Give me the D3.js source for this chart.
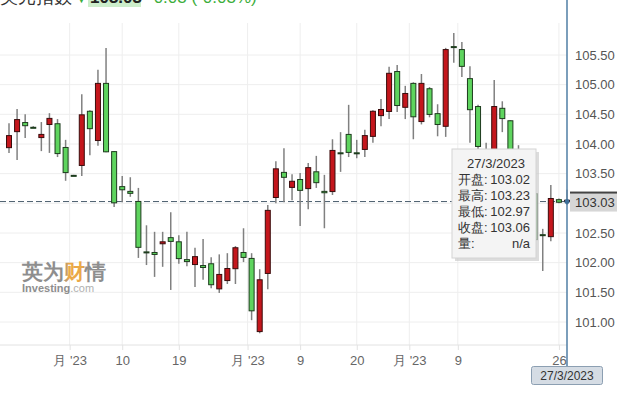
<!DOCTYPE html>
<html>
<head>
<meta charset="utf-8">
<script src="https://cdn.jsdelivr.net/npm/d3@7"></script>
<style>
  body { margin: 0; background: #fff; }
  text { font-family: "Liberation Sans", Arial, sans-serif; }
</style>
</head>
<body>
<svg id="chart"></svg>
<script>
// Daily candles (index 69 = 27/3/2023, the hovered day)
const opens  = [103.93,104.20,104.37,104.29,104.10,104.32,104.35,103.95,103.48,103.63,
                104.56,104.05,105.03,103.88,103.29,103.21,103.04,102.19,102.18,102.31,
                102.43,102.36,102.06,101.96,101.96,101.99,101.55,101.69,101.89,102.18,
                102.08,100.83,101.81,103.09,103.53,103.26,103.41,103.24,103.54,103.21,
                103.19,103.86,104.17,103.86,103.90,104.12,104.47,104.54,105.23,104.61,
                105.03,104.37,104.94,104.52,104.29,105.65,105.60,105.11,104.64,103.85,
                103.70,104.61,104.40,103.50,103.20,103.17,102.48,102.43,103.07,103.02];
const highs  = [104.35,104.59,104.50,104.30,104.37,104.52,104.42,104.07,103.48,104.84,
                104.57,105.25,105.62,103.88,103.46,103.44,103.26,102.63,102.52,102.52,
                102.85,102.46,102.52,102.25,102.40,102.09,102.14,102.16,102.28,102.58,
                102.16,101.89,102.97,103.71,103.93,103.49,103.51,103.68,103.80,103.48,
                104.08,104.20,104.66,104.07,104.24,104.57,104.76,105.30,105.33,104.98,
                105.04,105.18,104.96,104.67,105.62,105.87,105.72,105.31,104.66,104.02,
                105.08,104.72,104.40,103.98,103.40,103.25,102.57,103.31,103.08,103.23];
const lows   = [103.85,103.73,104.10,104.28,103.88,103.85,103.78,103.38,103.47,103.46,
                103.81,103.97,103.86,102.94,103.02,103.11,102.08,101.96,101.76,101.93,
                101.54,101.98,101.94,101.59,101.71,101.57,101.49,101.64,101.64,102.01,
                101.03,100.81,101.55,103.00,103.02,103.05,102.62,102.90,103.26,102.58,
                103.14,103.53,103.78,103.76,103.78,104.02,104.30,104.42,104.54,104.42,
                104.08,104.33,104.45,104.13,104.12,105.37,105.13,104.02,103.80,103.50,
                103.60,104.20,103.40,103.10,102.80,102.30,101.86,102.36,103.00,102.97];
const closes = [104.15,104.42,104.30,104.29,104.17,104.44,103.83,103.51,103.48,104.50,
                104.25,105.03,103.86,103.00,103.22,103.16,102.25,102.16,102.13,102.36,
                102.35,102.06,102.01,102.11,101.91,101.62,101.81,101.91,102.26,102.08,
                101.18,101.72,102.89,103.59,103.43,103.38,103.21,103.61,103.34,103.17,
                103.90,103.83,103.85,103.83,104.15,104.56,104.59,105.20,104.64,104.86,
                104.45,105.03,104.49,104.32,105.60,105.62,105.30,104.57,103.95,103.65,
                104.64,104.42,103.55,103.20,102.90,102.38,102.45,103.09,103.01,103.06];

const xTickIdx    = [7.5, 14, 21, 29.5, 36, 43, 49.5, 55.5, 68];
const xTickLabels = ["月 '23", "10", "19", "月 '23", "9", "20", "月 '23", "9", "26"];
const yTicks = [101, 101.5, 102, 102.5, 103, 103.5, 104, 104.5, 105, 105.5];

const lastPrice = 103.03;
const hoverIdx = 69;
const tipDate = "27/3/2023";
const tipLabels = ["开盘:", "最高:", "最低:", "收盘:", "量:"];
const tipValues = ["103.02", "103.23", "102.97", "103.06", "n/a"];

const titleName = "美元指数", titlePrice = "103.03", titleChange = "-0.03 (-0.03%)";

const W = 640, H = 399;
const plotRight = 567, plotTop = 23, plotBottom = 345;

const svg = d3.select("#chart").attr("width", W).attr("height", H);

const x = d3.scaleLinear().domain([0, 69]).range([9, plotRight]);
const y = d3.scaleLinear().domain([101, 105.5]).range([322, 55]);

const data = opens.map((o, i) => ({ i, o, h: highs[i], l: lows[i], c: closes[i] }));

// grid
svg.append("g").selectAll("line").data(yTicks).enter().append("line")
    .attr("x1", 0).attr("x2", plotRight)
    .attr("y1", d => y(d)).attr("y2", d => y(d))
    .attr("stroke", "#eeeeee");
svg.append("g").selectAll("line").data(xTickIdx).enter().append("line")
    .attr("x1", d => x(d)).attr("x2", d => x(d))
    .attr("y1", plotTop).attr("y2", plotBottom)
    .attr("stroke", "#eeeeee");
svg.append("line").attr("x1", 0).attr("x2", plotRight)
    .attr("y1", plotBottom).attr("y2", plotBottom).attr("stroke", "#e2e2e2");

// watermark
const defs = svg.append("defs");
const grad = defs.append("linearGradient").attr("id", "cai");
grad.append("stop").attr("offset", "50%").attr("stop-color", "#8e8e8e");
grad.append("stop").attr("offset", "56%").attr("stop-color", "#eaa848");
grad.append("stop").attr("offset", "72%").attr("stop-color", "#eaa848");
grad.append("stop").attr("offset", "80%").attr("stop-color", "#8e8e8e");
const wm = svg.append("g").attr("transform", "translate(22,279)");
const wmText = wm.append("text").attr("font-size", 21).attr("font-weight", "bold")
    .attr("fill", "#8e8e8e").attr("font-family", "Noto Sans CJK SC");
wmText.append("tspan").text("英为");
wmText.append("tspan").attr("fill", "url(#cai)").text("财");
wmText.append("tspan").text("情");
const wm2 = wm.append("text").attr("y", 13).attr("font-size", 11).attr("font-weight", "bold").attr("fill", "#8e8e8e");
wm2.append("tspan").text("Investing");
wm2.append("tspan").attr("font-weight", "normal").attr("fill", "#b0b0b0").text(".com");

// last price dashed line
svg.append("line").attr("x1", 0).attr("x2", plotRight)
    .attr("y1", y(lastPrice)).attr("y2", y(lastPrice))
    .attr("stroke", "#4b5e6e").attr("stroke-dasharray", "6,3");

// candles (red = up, green = down)
const bw = 6;
const candles = svg.append("g").selectAll("g").data(data).enter().append("g");
candles.append("line")
    .attr("x1", d => x(d.i)).attr("x2", d => x(d.i))
    .attr("y1", d => y(d.h)).attr("y2", d => y(d.l))
    .attr("stroke", "#808080").attr("stroke-width", 1.5);
candles.append("rect")
    .attr("x", d => x(d.i) - bw / 2 + 0.5)
    .attr("y", d => y(Math.max(d.o, d.c)) + 0.5)
    .attr("width", bw - 1)
    .attr("height", d => Math.max(1, Math.abs(y(d.o) - y(d.c)) - 1))
    .attr("fill", d => d.c > d.o ? "#c4161c" : "#5ed45e")
    .attr("stroke", d => d.c > d.o ? "#3a0c0c" : "#1e3b1e")
    .attr("stroke-width", 1);

// y axis
const yAxis = svg.append("g").attr("transform", `translate(${plotRight},0)`)
    .call(d3.axisRight(y).tickValues(yTicks).tickFormat(d3.format(".2f")).tickSize(0).tickPadding(8));
yAxis.select(".domain").remove();
yAxis.selectAll("text").attr("font-size", 13).attr("fill", "#555");

// current price box
svg.append("rect").attr("x", 570).attr("y", y(lastPrice) - 9).attr("width", 47).attr("height", 19)
    .attr("fill", "#d6d6d6");
svg.append("rect").attr("x", 570).attr("y", y(lastPrice) - 10).attr("width", 47).attr("height", 2)
    .attr("fill", "#444");
svg.append("text").attr("x", 575).attr("y", y(lastPrice) + 5)
    .attr("font-size", 13).attr("fill", "#333").text(d3.format(".2f")(lastPrice));

// x axis
const xAxis = svg.append("g").attr("transform", `translate(0,${plotBottom})`)
    .call(d3.axisBottom(x).tickValues(xTickIdx).tickFormat((d, i) => xTickLabels[i]).tickSize(5).tickPadding(6));
xAxis.select(".domain").remove();
xAxis.selectAll("line").attr("stroke", "#e2e2e2");
xAxis.selectAll("text").attr("font-size", 13).attr("fill", "#666")
    .attr("font-family", "Noto Sans CJK SC, Liberation Sans");

// crosshair
const cx = x(hoverIdx);
svg.append("line").attr("x1", cx).attr("x2", cx).attr("y1", 0).attr("y2", 367)
    .attr("stroke", "#5b86aa").attr("stroke-width", 1.6);
svg.append("circle").attr("cx", cx).attr("cy", y(lastPrice)).attr("r", 2.5).attr("fill", "#3d6f98");
svg.append("rect").attr("x", cx - 35.5).attr("y", 366.5).attr("width", 71).attr("height", 18).attr("rx", 2)
    .attr("fill", "#d5dce4").attr("stroke", "#8c9fb2");
svg.append("text").attr("x", cx).attr("y", 380).attr("text-anchor", "middle")
    .attr("font-size", 12).attr("fill", "#333").text(tipDate);

// tooltip
const tip = svg.append("g").attr("transform", "translate(452,149)");
tip.append("rect").attr("x", 3).attr("y", 3).attr("width", 84).attr("height", 109).attr("fill", "#c4c4c4").attr("opacity", 0.6);
tip.append("rect").attr("width", 84).attr("height", 109).attr("fill", "#f4f4f4").attr("stroke", "#d4d4d4");
tip.append("text").attr("x", 44).attr("y", 19).attr("text-anchor", "middle")
    .attr("font-size", 13).attr("fill", "#333").text(tipDate);
const rows = tip.selectAll(".row").data(tipLabels).enter().append("g")
    .attr("transform", (d, i) => `translate(0,${35 + i * 16})`);
rows.append("text").attr("x", 6).attr("font-size", 13).attr("fill", "#333")
    .attr("font-family", "Noto Sans CJK SC").text(d => d);
rows.append("text").attr("x", 78).attr("text-anchor", "end").attr("font-size", 13).attr("fill", "#333")
    .text((d, i) => tipValues[i]);

// header (cut off at the top edge, as in the screenshot)
const head = svg.append("g").attr("transform", "translate(0,3)");
head.append("text").attr("font-size", 18).attr("fill", "#333").attr("font-family", "Noto Sans CJK SC").text(titleName);
head.append("text").attr("x", 76).attr("font-size", 11).attr("fill", "#3cae3c").text("▼");
head.append("rect").attr("x", 88).attr("y", -16).attr("width", 53).attr("height", 20).attr("fill", "#cdeecb");
head.append("text").attr("x", 90).attr("font-size", 17).attr("font-weight", "bold").attr("fill", "#222").text(titlePrice);
head.append("text").attr("x", 148).attr("font-size", 17).attr("fill", "#3cae3c").text(titleChange);
</script>
</body>
</html>
